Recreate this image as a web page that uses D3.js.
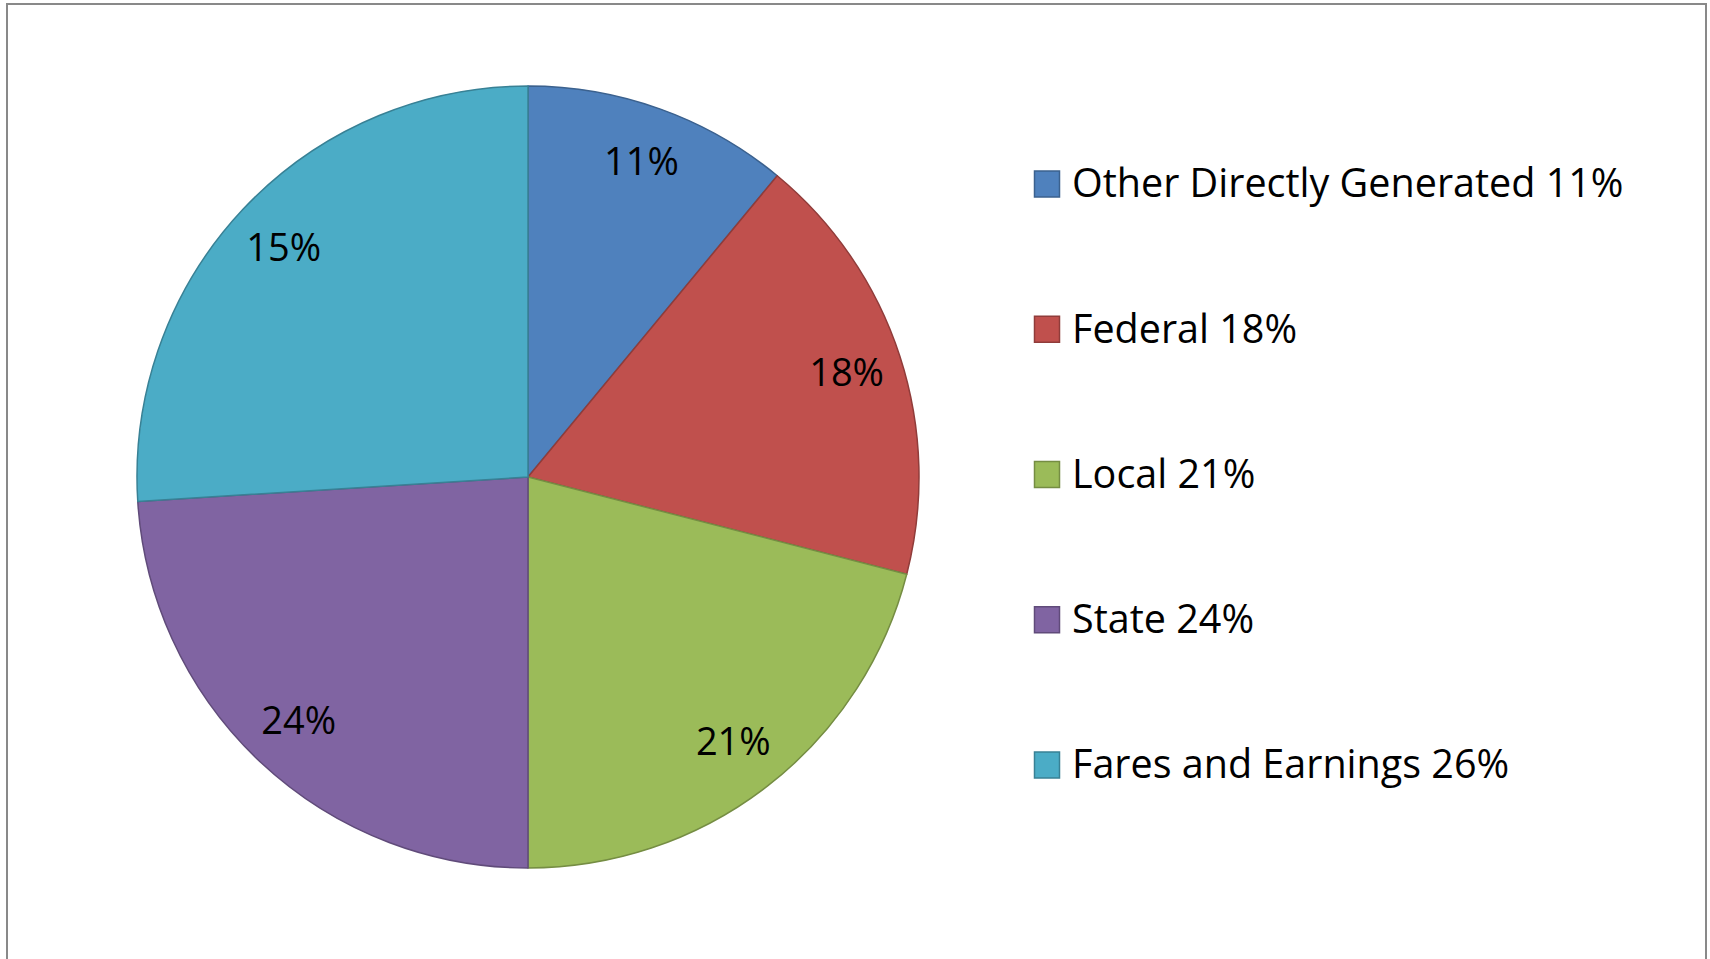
<!DOCTYPE html>
<html>
<head>
<meta charset="utf-8">
<script src="https://cdn.jsdelivr.net/npm/d3@7"></script>
<style>
  body { margin: 0; background: #fff; }
  text { font-family: "Open Sans", "Noto Sans", sans-serif; fill: #000; }
</style>
</head>
<body>
<div id="chart-container"></div>
<script>
// page size
const width = 1710;
const height = 959;

// categories, values and the labels shown on the slices
const categories = ["Other Directly Generated", "Federal", "Local", "State", "Fares and Earnings"];
const values = [11, 18, 21, 24, 26];
const sliceLabels = ["11%", "18%", "21%", "24%", "15%"];
const legendLabels = ["Other Directly Generated 11%", "Federal 18%", "Local 21%", "State 24%", "Fares and Earnings 26%"];

// office palette
const color = ["#4f81bd", "#c0504d", "#9bbb59", "#8064a2", "#4bacc6"];

const cx = 528, cy = 477, radius = 391;

const svg = d3.select("#chart-container")
  .append("svg")
  .attr("width", width)
  .attr("height", height);

// chart frame (bottom edge runs off the page)
svg.append("path")
  .attr("d", "M7,970 L7,4 L1706,4 L1706,970")
  .attr("fill", "none")
  .attr("stroke", "#898989")
  .attr("stroke-width", 2);

const pie = d3.pie().sort(null).value(d => d);
const arcs = pie(values);

const arc = d3.arc().innerRadius(0).outerRadius(radius);
const labelArc = d3.arc().innerRadius(335).outerRadius(335);

const g = svg.append("g")
  .attr("transform", `translate(${cx},${cy})`);

g.selectAll("path.slice")
  .data(arcs)
  .enter()
  .append("path")
  .attr("class", "slice")
  .attr("d", arc)
  .attr("fill", (d, i) => color[i])
  .attr("stroke", (d, i) => d3.color(color[i]).darker(0.8))
  .attr("stroke-width", 1.5)
  .attr("stroke-linejoin", "round");

g.selectAll("text.label")
  .data(arcs)
  .enter()
  .append("text")
  .attr("class", "label")
  .attr("transform", d => `translate(${labelArc.centroid(d)})`)
  .attr("text-anchor", "middle")
  .attr("dy", "0.34em")
  .style("font-size", "38px")
  .text((d, i) => sliceLabels[i]);

// legend
const legendY = d3.scalePoint()
  .domain(categories)
  .range([184, 765]);

const legend = svg.append("g");

const rows = legend.selectAll("g")
  .data(categories)
  .enter()
  .append("g")
  .attr("transform", d => `translate(1034,${legendY(d)})`);

rows.append("rect")
  .attr("x", 0.5)
  .attr("y", -13)
  .attr("width", 25)
  .attr("height", 26)
  .attr("fill", (d, i) => color[i])
  .attr("stroke", (d, i) => d3.color(color[i]).darker(0.8))
  .attr("stroke-width", 1.5);

rows.append("text")
  .attr("x", 38)
  .attr("dy", "0.34em")
  .style("font-size", "39.5px")
  .text((d, i) => legendLabels[i]);
</script>
</body>
</html>
